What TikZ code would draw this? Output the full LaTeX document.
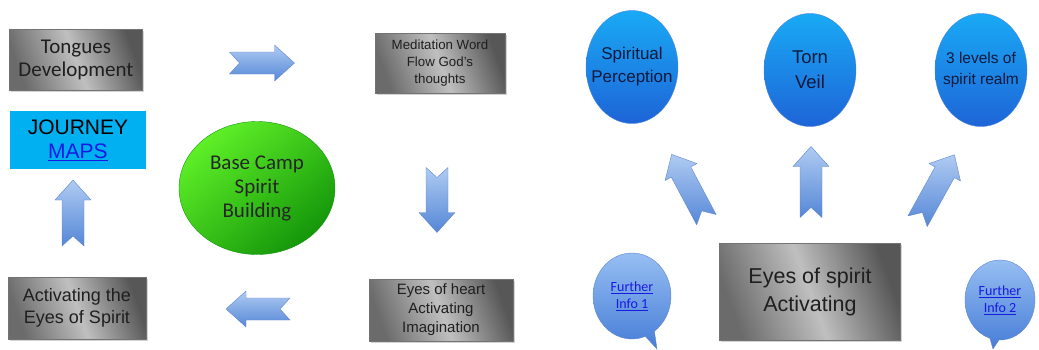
\documentclass[tikz,border=0pt]{standalone}
\usepackage{fontspec}
\setmainfont{Liberation Sans}
\newfontfamily\calibri{Carlito}
\usetikzlibrary{shapes.geometric,shapes.callouts,shadows}

\definecolor{mapblue}{RGB}{0,176,240}
\definecolor{linkblue}{RGB}{25,25,225}
\definecolor{arrowlight}{RGB}{175,203,242}
\definecolor{arrowdark}{RGB}{85,135,215}
\definecolor{arrowedge}{RGB}{95,135,205}
\definecolor{orblight}{RGB}{25,170,245}
\definecolor{orbdark}{RGB}{30,100,215}
\definecolor{orbtext}{RGB}{15,25,60}
\definecolor{campgreen}{RGB}{95,240,40}
\definecolor{campdark}{RGB}{20,150,10}
\definecolor{bubblelight}{RGB}{150,190,242}
\definecolor{bubbledark}{RGB}{70,125,215}

\tikzset{
  graybox/.style={rectangle, draw=black!55, text=black!88, align=center, inner sep=2pt,
    left color=black!58, right color=black!66, middle color=black!25, shading angle=110,
    drop shadow={opacity=0.35, shadow xshift=1.5pt, shadow yshift=-1.5pt}},
  orb/.style={ellipse, draw=orbdark!80, minimum width=92, minimum height=113,
    inner xsep=-10pt, inner ysep=0pt,
    align=center, top color=orblight, bottom color=orbdark, text=orbtext},
  bubble/.style={ellipse callout, draw=arrowedge, top color=bubblelight, bottom color=bubbledark,
    inner sep=0pt, align=center, text=linkblue, font=\calibri\fontsize{14}{17}\selectfont},
  pics/blockarrow/.style={code={
    \path[draw=arrowedge, top color=arrowlight, bottom color=arrowdark, line join=round]
      (-#1/2,11) -- (#1/2-20,11) -- (#1/2-20,18) -- (#1/2,0) -- (#1/2-20,-18)
      -- (#1/2-20,-11) -- (-#1/2,-11) -- (-#1/2+10,0) -- cycle;}}
}

\begin{document}
\begin{tikzpicture}[x=1pt,y=1pt]
  \useasboundingbox (0,0) rectangle (1039,-349);
  % left loop
  \node[graybox, minimum width=133, minimum height=61, font=\calibri\fontsize{21}{23}\selectfont]
    (tongues) at (76,-60) {Tongues\\Development};
  \node[rectangle, fill=mapblue, minimum width=136, minimum height=58, align=center,
    font=\fontsize{21}{24}\selectfont] (maps) at (78,-140)
    {JOURNEY\\\textcolor{linkblue}{\underline{MAPS}}};
  \node[ellipse, draw=campdark, minimum width=156, minimum height=133, align=center,
    top color=campgreen, bottom color=campdark, shading angle=40, text=black!85,
    font=\calibri\fontsize{21}{24}\selectfont] (camp) at (257,-188) {Base Camp\\Spirit\\Building};
  \node[graybox, minimum width=138, minimum height=62, font=\fontsize{18}{22}\selectfont]
    (activating) at (77,-308) {Activating the\\Eyes of Spirit};
  \node[graybox, minimum width=130, minimum height=60, font=\fontsize{13.3}{17}\selectfont]
    (meditation) at (440,-63) {Meditation Word\\Flow God's\\thoughts};
  \node[graybox, minimum width=144, minimum height=62, font=\fontsize{15}{19}\selectfont]
    (heart) at (441,-310) {Eyes of heart\\Activating\\Imagination};
  \pic at (262,-63) {blockarrow=65};
  \pic[rotate=-90] at (437,-200) {blockarrow=65};
  \pic[rotate=180] at (258,-309) {blockarrow=64};
  \pic[rotate=90] at (73,-213) {blockarrow=66};
  % right fan
  \node[orb, font=\fontsize{17}{23}\selectfont] (spiritual) at (632,-67) {Spiritual\\Perception};
  \node[orb, font=\fontsize{18.5}{25}\selectfont] (torn) at (810,-70) {Torn\\Veil};
  \node[orb, font=\fontsize{15.5}{21}\selectfont] (levels) at (981,-70) {3 levels of\\spirit realm};
  \node[graybox, minimum width=181, minimum height=97, font=\fontsize{21.5}{28}\selectfont]
    (eyespirit) at (810,-292) {Eyes of spirit\\Activating};
  \pic[rotate=118] at (689,-187) {blockarrow=74};
  \pic[rotate=90] at (811,-182) {blockarrow=71};
  \pic[rotate=61] at (936,-188) {blockarrow=76};
  \node[bubble, minimum width=78, minimum height=86, callout absolute pointer={(657,-349)}]
    (info1) at (632,-296) {\underline{Further}\\\underline{Info 1}};
  \node[bubble, minimum width=70, minimum height=80, callout absolute pointer={(993,-349)}]
    (info2) at (1000,-300) {\underline{Further}\\\underline{Info 2}};
\end{tikzpicture}
\end{document}
